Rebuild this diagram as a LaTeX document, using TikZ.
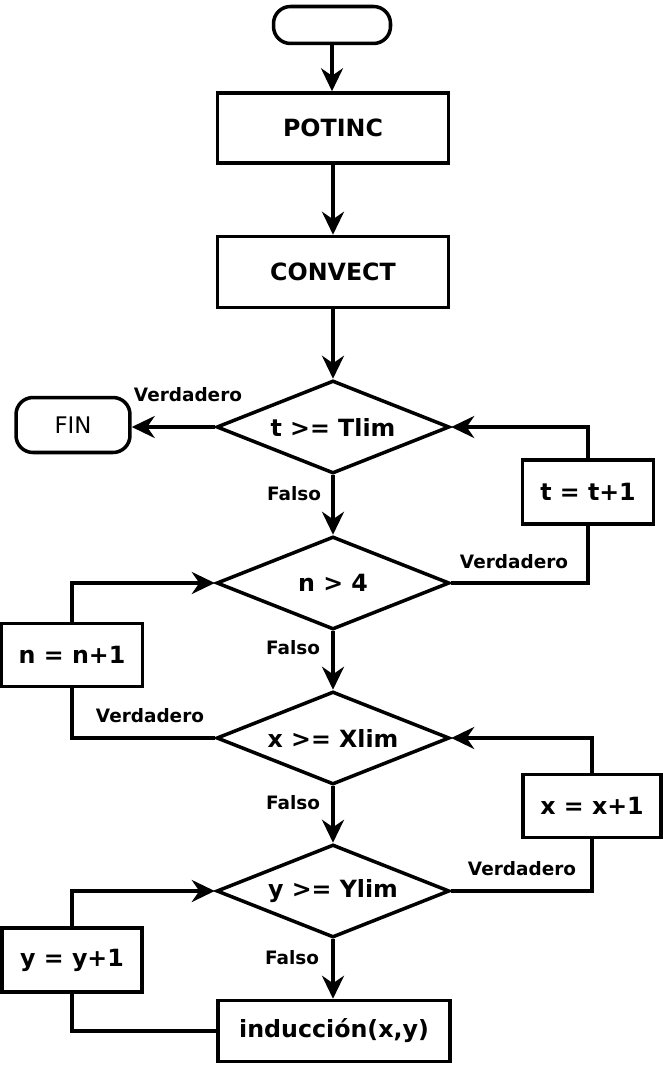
\documentclass[tikz,border=0pt]{standalone}
\usepackage{fontspec}
\setmainfont{DejaVu Sans}
\usetikzlibrary{shapes.geometric,arrows.meta}
\begin{document}
\begin{tikzpicture}[x=0.02cm,y=-0.02cm,
  every node/.style={inner sep=0pt},
  line/.style={line width=2pt},
  arr/.style={line width=2pt,-{Stealth[length=4.6mm,width=4.4mm,inset=1.5mm]}},
  procbox/.style={draw,line width=2pt,rectangle,font=\fontsize{13.5}{16}\selectfont\bfseries},
  term/.style={draw,line width=2pt,rectangle,rounded corners=0.34cm},
  decision/.style={draw,line width=2pt,diamond,aspect=2.5,minimum width=4.66cm,minimum height=1.86cm,font=\fontsize{13.5}{16}\selectfont\bfseries},
  lbl/.style={font=\fontsize{10.5}{12}\selectfont\bfseries}]
\useasboundingbox (0,0) rectangle (662,1067);
\node[term,minimum width=2.34cm,minimum height=0.74cm] (start) at (332,25) {};
\node[procbox,minimum width=4.62cm,minimum height=1.4cm] (potinc) at (333,128) {POTINC};
\node[procbox,minimum width=4.62cm,minimum height=1.42cm] (convect) at (333,272) {CONVECT};
\node[decision] (d1) at (333,427) {t >= Tlim};
\node[term,minimum width=2.28cm,minimum height=1.1cm,font=\fontsize{13}{15}\selectfont] (fin) at (73,425) {FIN};
\node[procbox,minimum width=2.62cm,minimum height=1.28cm] (tinc) at (588,492) {t = t+1};
\node[decision] (d2) at (333,583) {n > 4};
\node[procbox,minimum width=2.82cm,minimum height=1.26cm] (ninc) at (72,655) {n = n+1};
\node[decision] (d3) at (333,738) {x >= Xlim};
\node[procbox,minimum width=2.76cm,minimum height=1.26cm] (xinc) at (592,806) {x = x+1};
\node[decision] (d4) at (333,891) {y >= Ylim};
\node[procbox,minimum width=2.8cm,minimum height=1.28cm] (yinc) at (72,960) {y = y+1};
\node[procbox,minimum width=4.64cm,minimum height=1.22cm] (ind) at (334,1031) {inducción(x,y)};

\draw[arr] (start.south) -- (start.south |- potinc.north);
\draw[arr] (potinc.south) -- (convect.north);
\draw[arr] (convect.south) -- (d1.north);
\draw[arr] (d1.west) -- (fin.east |- d1.west);
\draw[arr] (d1.south) -- (d2.north);
\draw[arr] (d2.south) -- (d3.north);
\draw[arr] (d3.south) -- (d4.north);
\draw[arr] (d4.south) -- (d4.south |- ind.north);
\draw[line] (d2.east) -| (tinc.south);
\draw[arr] (tinc.north) |- (d1.east);
\draw[line] (d3.west) -| (ninc.south);
\draw[arr] (ninc.north) |- (d2.west);
\draw[line] (d4.east) -| (xinc.south);
\draw[arr] (xinc.north) |- (d3.east);
\draw[line] (ind.west) -| (yinc.south);
\draw[arr] (yinc.north) |- (d4.west);

\node[lbl] (l1) at (188,395) {Verdadero};
\node[lbl] (l2) at (294,494) {Falso};
\node[lbl] (l3) at (514,562) {Verdadero};
\node[lbl] (l4) at (293,648) {Falso};
\node[lbl] (l5) at (150,716) {Verdadero};
\node[lbl] (l6) at (293,803) {Falso};
\node[lbl] (l7) at (522,869) {Verdadero};
\node[lbl] (l8) at (292,958) {Falso};
\end{tikzpicture}
\end{document}
